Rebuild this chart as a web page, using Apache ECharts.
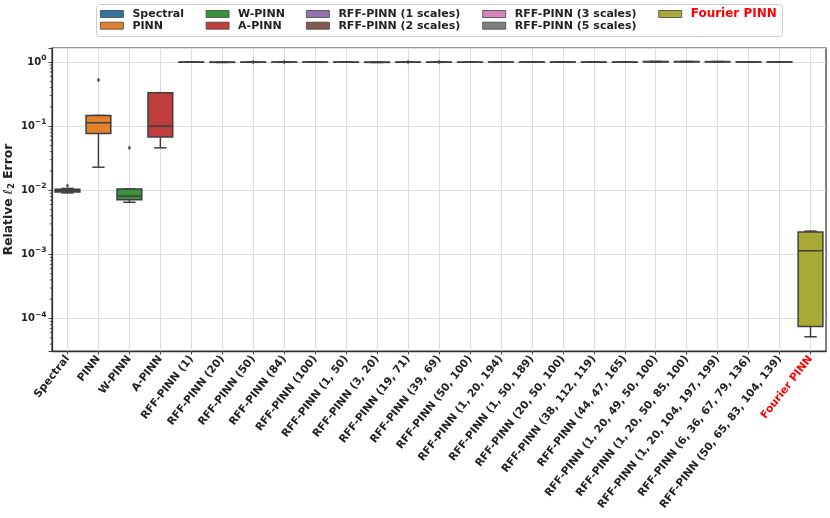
<!DOCTYPE html>
<html>
<head>
<meta charset="utf-8">
<script src="https://cdn.jsdelivr.net/npm/echarts@6/dist/echarts.min.js"></script>
<style>
html,body{margin:0;padding:0;background:#fff;}
#chart{width:830px;height:518px;}
</style>
</head>
<body>
<div id="chart"></div>
<script>
// ---------------- data ----------------
const categories = [
  'Spectral','PINN','W-PINN','A-PINN',
  'RFF-PINN (1)','RFF-PINN (20)','RFF-PINN (50)','RFF-PINN (84)','RFF-PINN (100)',
  'RFF-PINN (1, 50)','RFF-PINN (3, 20)','RFF-PINN (19, 71)','RFF-PINN (39, 69)','RFF-PINN (50, 100)',
  'RFF-PINN (1, 20, 194)','RFF-PINN (1, 50, 189)','RFF-PINN (20, 50, 100)','RFF-PINN (38, 112, 119)','RFF-PINN (44, 47, 165)',
  'RFF-PINN (1, 20, 49, 50, 100)','RFF-PINN (1, 20, 50, 85, 100)','RFF-PINN (1, 20, 104, 197, 199)','RFF-PINN (6, 36, 67, 79, 136)','RFF-PINN (50, 65, 83, 104, 139)',
  'Fourier PINN'
];
const legendNames = ['Spectral','PINN','W-PINN','A-PINN','RFF-PINN (1 scales)','RFF-PINN (2 scales)','RFF-PINN (3 scales)','RFF-PINN (5 scales)','Fourier PINN'];
const groupOf = [0,1,2,3, 4,4,4,4,4, 5,5,5,5,5, 6,6,6,6,6, 7,7,7,7,7, 8];

const boxMin    = [0.0091, 0.0229, 0.0065, 0.0459, 0.992, 0.985, 0.990, 0.990, 0.993, 0.992, 0.983, 0.991, 0.991, 0.992, 0.993, 0.993, 0.993, 0.993, 0.993, 1.000, 1.002, 1.000, 0.998, 0.998, 0.000052];
const boxQ1     = [0.0094, 0.0769, 0.0071, 0.0675, 0.994, 0.988, 0.993, 0.993, 0.995, 0.994, 0.987, 0.994, 0.994, 0.994, 0.995, 0.995, 0.995, 0.995, 0.995, 1.005, 1.006, 1.005, 1.000, 1.000, 0.000075];
const boxMedian = [0.0099, 0.113,  0.0081, 0.100,  0.996, 0.993, 0.995, 0.995, 0.997, 0.996, 0.992, 0.996, 0.996, 0.996, 0.997, 0.997, 0.997, 0.997, 0.997, 1.012, 1.012, 1.010, 1.002, 1.002, 0.00114];
const boxQ3     = [0.0104, 0.147,  0.0105, 0.333,  0.998, 0.998, 0.997, 0.997, 0.999, 0.998, 0.997, 0.998, 0.998, 0.998, 0.999, 0.999, 0.999, 0.999, 0.999, 1.020, 1.018, 1.016, 1.004, 1.005, 0.00224];
const boxMax    = [0.0107, 0.147,  0.0105, 0.333,  1.000, 1.000, 0.999, 0.999, 1.000, 1.000, 1.000, 1.000, 1.000, 1.000, 1.000, 1.000, 1.000, 1.000, 1.000, 1.022, 1.020, 1.020, 1.006, 1.008, 0.00231];

const outlierCategory = [0, 1, 2, 6, 7, 11, 12];
const outlierValue    = [0.0118, 0.523, 0.0459, 1.003, 1.004, 1.003, 1.004];

const yMin = 3.12e-5, yMax = 1.655;
const minorMultipliers = [2,3,4,5,6,7,8,9];
const minorDecades = [-5,-4,-3,-2,-1,0];

// ---------------- style ----------------
const palette = ['#3274a1','#e1812c','#3a923a','#c03d3e','#9372b2','#845b53','#d684bd','#7f7f7f','#a9aa35'];
const EDGE = '#3f3f3f';
const FONT = 'DejaVu Sans';

const chart = echarts.init(document.getElementById('chart'), null, {renderer:'canvas'});

function renderBox(params, api) {
  const x = api.value(0);
  const pMin = api.coord([x, api.value(1)]);
  const pQ1 = api.coord([x, api.value(2)]);
  const pMed = api.coord([x, api.value(3)]);
  const pQ3 = api.coord([x, api.value(4)]);
  const pMax = api.coord([x, api.value(5)]);
  const band = api.size([1, 0])[0];
  const w = band * 0.8, half = w / 2, cap = w / 4;
  const cx = pMed[0];
  const ls = {stroke: EDGE, lineWidth: 1.5};
  return {
    type: 'group',
    children: [
      {type:'line', shape:{x1:cx, y1:pQ3[1], x2:cx, y2:pMax[1]}, style: ls},
      {type:'line', shape:{x1:cx, y1:pQ1[1], x2:cx, y2:pMin[1]}, style: ls},
      {type:'line', shape:{x1:cx-cap, y1:pMax[1], x2:cx+cap, y2:pMax[1]}, style: ls},
      {type:'line', shape:{x1:cx-cap, y1:pMin[1], x2:cx+cap, y2:pMin[1]}, style: ls},
      {type:'rect', shape:{x:cx-half, y:pQ3[1], width:w, height:pQ1[1]-pQ3[1]},
        style:{fill: api.visual('color'), stroke: EDGE, lineWidth: 1.5}},
      {type:'line', shape:{x1:cx-half, y1:pMed[1], x2:cx+half, y2:pMed[1]}, style: ls}
    ]
  };
}

const series = legendNames.map((name, g) => ({
  name: name,
  type: 'custom',
  renderItem: renderBox,
  itemStyle: {color: palette[g]},
  encode: {x: 0, y: [1,2,3,4,5]},
  data: categories.map((c, i) => i).filter(i => groupOf[i] === g)
    .map(i => [i, boxMin[i], boxQ1[i], boxMedian[i], boxQ3[i], boxMax[i]]),
  z: 3
}));

series.push({
  name: 'outliers',
  type: 'scatter',
  symbol: 'diamond',
  symbolSize: [3.5, 5],
  itemStyle: {color: EDGE},
  data: outlierCategory.map((c, i) => [c, outlierValue[i]]),
  z: 4,
  silent: true
});

// minor ticks on the log axis
const minorData = [];
minorDecades.forEach(d => minorMultipliers.forEach(m => {
  const v = m * Math.pow(10, d);
  if (v > yMin && v < yMax) minorData.push([0, v]);
}));
series.push({
  name: 'minorTicks',
  type: 'custom',
  silent: true,
  clip: false,
  encode: {x: 0, y: 1},
  renderItem: function (params, api) {
    const p = api.coord([0, api.value(1)]);
    const x0 = params.coordSys.x;
    return {type:'line', shape:{x1:x0-2.2, y1:p[1], x2:x0, y2:p[1]}, style:{stroke:'#333', lineWidth:0.8}};
  },
  data: minorData,
  z: 5
});

// legend layout
const colX = [100, 205.7, 306, 482.3, 658.3];
const rowY = [14, 25.7];
const legends = legendNames.map((name, g) => {
  const col = Math.floor(g / 2), row = g % 2;
  const isF = name === 'Fourier PINN';
  return {
    data: [{name: name, textStyle: isF ? {color:'#ff0000', fontSize: 12} : undefined}],
    left: colX[col], top: rowY[row] - 6,
    orient: 'vertical', padding: 0,
    itemWidth: 23, itemHeight: 7, icon: 'rect',
    itemStyle: {borderColor: '#444', borderWidth: 0.8},
    selectedMode: false,
    textStyle: {fontFamily: FONT, fontWeight: 'bold', fontSize: 11, color: '#222', lineHeight: 12, padding: [0,0,0,4]}
  };
});

function supExp(value) {
  const e = Math.log10(value);
  const r = Math.round(e);
  if (Math.abs(e - r) > 1e-6) return '';
  const s = r < 0 ? '\u2212' + (-r) : String(r);
  return '{b|10}{s|' + s + '}';
}

const option = {
  animation: false,
  backgroundColor: '#fff',
  textStyle: {fontFamily: FONT},
  graphic: [{
    type: 'rect', left: 96, top: 4, z: 0,
    shape: {width: 686, height: 32, r: 3},
    style: {fill: '#fff', stroke: '#cccccc', lineWidth: 1}
  }],
  legend: legends,
  grid: {
    left: 52, right: 4, top: 48, bottom: 167,
    show: true, backgroundColor: '#fff', borderColor: '#333', borderWidth: 1.25,
    containLabel: false,
    outerBoundsMode: 'none'
  },
  xAxis: {
    type: 'category',
    data: categories,
    boundaryGap: true,
    axisLine: {show: true, lineStyle: {color: '#333', width: 1.25}},
    axisTick: {show: true, alignWithLabel: true, length: 3.5, lineStyle: {color: '#333', width: 0.9}},
    splitLine: {show: true, alignWithLabel: true, lineStyle: {color: '#dddddd', width: 1}},
    axisLabel: {
      interval: 0, rotate: 52, margin: 6,
      formatter: function (v) {
        return v === 'Fourier PINN' ? '{f|' + v + '}' : '{n|' + v + '}';
      },
      rich: {
        n: {fontFamily: FONT, fontWeight: 'bold', fontSize: 10.7, color: '#222'},
        f: {fontFamily: FONT, fontWeight: 'bold', fontSize: 10.7, color: '#ff0000'}
      }
    }
  },
  yAxis: {
    type: 'log', logBase: 10,
    min: yMin, max: yMax,
    name: '{n|Relative }{i|\u2113}{sub|2}{n| Error}',
    nameLocation: 'middle', nameGap: 36, nameRotate: 90,
    nameMoveOverlap: false,
    nameTextStyle: {
      rich: {
        n: {fontFamily: FONT, fontWeight: 'bold', fontSize: 12.3, color: '#222'},
        i: {fontFamily: FONT, fontStyle: 'italic', fontSize: 12.5, color: '#222'},
        sub: {fontFamily: FONT, fontWeight: 'bold', fontSize: 8.5, color: '#222', verticalAlign: 'bottom', lineHeight: 15}
      }
    },
    axisLine: {show: true, lineStyle: {color: '#333', width: 1.25}},
    axisTick: {show: true, length: 3.5, lineStyle: {color: '#333', width: 0.9}},
    splitLine: {show: true, lineStyle: {color: '#dddddd', width: 1}},
    minorTick: {show: false},
    axisLabel: {
      margin: 5.5,
      formatter: supExp,
      rich: {
        b: {fontFamily: FONT, fontWeight: 'bold', fontSize: 10, color: '#222', lineHeight: 16, verticalAlign: 'middle'},
        s: {fontFamily: FONT, fontWeight: 'bold', fontSize: 7.5, color: '#222', lineHeight: 10, verticalAlign: 'top'}
      }
    }
  },
  series: series
};
chart.setOption(option);
</script>
</body>
</html>
